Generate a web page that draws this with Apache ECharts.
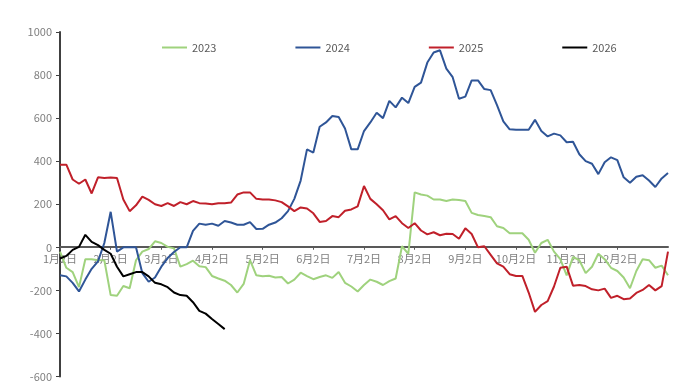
<!DOCTYPE html>
<html>
<head>
<meta charset="utf-8">
<script src="https://cdn.jsdelivr.net/npm/echarts@6/dist/echarts.min.js"></script>
<style>
  html, body { margin: 0; padding: 0; background: #fff; }
  #chart { width: 676px; height: 382px; }
</style>
</head>
<body>
<div id="chart"></div>
<script>
// x 轴：每月 8 个点，月标签放在每月 2 日
const months = [1, 2, 3, 4, 5, 6, 7, 8, 9, 10, 11, 12];
const days = [2, 5, 9, 13, 17, 21, 24, 28];
const categories = [];
months.forEach(m => days.forEach(d => categories.push(m + '月' + d + '日')));
categories.push('1月2日');

const seriesNames = ['2023', '2024', '2025', '2026'];

const data2023 = [
  -20, -95, -115, -185, -55, -55, -60, -60,
  -222, -225, -180, -190, -60, -20, -8, 28,
  20, 2, -5, -90, -78, -62, -88, -92,
  -133, -145, -155, -175, -210, -170, -60, -130,
  -134, -132, -140, -138, -168, -150, -118, -134,
  -148, -138, -130, -142, -115, -165, -182, -205,
  -175, -150, -160, -175, -157, -145, 5, -30,
  255, 245, 240, 222, 222, 215, 222, 220,
  215, 160, 150, 145, 140, 98, 90, 65,
  65, 65, 35, -25, 20, 35, -20, -55,
  -130, -45, -60, -120, -90, -30, -55, -95,
  -110, -140, -190, -110, -55, -60, -95, -85,
  -130
];

const data2024 = [
  -130, -135, -165, -205, -150, -100, -65, 20,
  165, -20, 0, 0, 0, -120, -160, -140,
  -90, -50, -22, 0, 0, 76, 110, 105,
  110, 100, 122, 115, 105, 105, 117, 85,
  86, 105, 115, 135, 168, 225, 310, 455,
  440, 560, 580, 610, 605, 552, 455, 455,
  540, 580, 625, 600, 680, 650, 695, 670,
  745, 765, 858, 905, 915, 830, 790, 690,
  700, 775, 775, 735, 730, 660, 585, 548,
  546, 546, 546, 592, 540, 515, 528, 520,
  488, 490, 432, 400, 388, 340, 395, 418,
  405, 325, 300, 328, 335, 310, 280, 320,
  345
];

const data2025 = [
  384, 384, 315, 295, 315, 250, 325, 322,
  324, 322, 222, 168, 195, 235, 220, 200,
  192, 205, 192, 210, 200, 215, 205, 203,
  200, 205, 205, 208, 245, 255, 255, 225,
  222, 222, 218, 210, 190, 168, 185, 180,
  158, 118, 122, 145, 140, 170, 176, 190,
  285, 225, 200, 172, 130, 145, 112, 90,
  112, 78, 60, 70, 56, 63, 62, 40,
  88, 62, 0, 5, -35, -75, -90, -125,
  -133, -133, -210, -300, -268, -250, -182, -95,
  -90, -178, -175, -180, -195, -200, -192, -235,
  -225, -241, -238, -212, -198, -175, -200, -180,
  -20
];

const data2026 = [
  -52, -40, -12, 2, 58, 25, 10, -12,
  -30, -90, -135, -125, -115, -115, -135, -165,
  -172, -185, -210, -222, -225, -255, -295, -308,
  -333, -356, -380
];

const seriesData = [data2023, data2024, data2025, data2026];
const colors = ['#9fd27d', '#2f5597', '#c0202a', '#000000'];

const yMin = -600, yMax = 1000;
const gridTop = 32, gridBottom = 4, chartH = 382;
// 把 x 轴整体（线、刻度、标签）上移到 0 的位置
const plotH = chartH - gridTop - gridBottom;
const zeroOffset = -plotH * (0 - yMin) / (yMax - yMin);

const chart = echarts.init(document.getElementById('chart'));
const isMonthTick = (idx) => idx % 8 === 0 && idx < 96;

chart.setOption({
  animation: false,
  color: colors,
  textStyle: { fontFamily: 'Noto Sans CJK SC' },
  grid: { left: 60, right: 8, top: gridTop, bottom: gridBottom, containLabel: false },
  legend: {
    data: seriesNames,
    left: 157,
    top: 37,
    icon: 'rect',
    itemWidth: 25,
    itemHeight: 2,
    itemGap: 79,
    textStyle: { color: '#595959', fontSize: 11 }
  },
  xAxis: {
    type: 'category',
    data: categories,
    boundaryGap: false,
    offset: zeroOffset,
    axisLine: { onZero: false, lineStyle: { color: '#595959', width: 2 } },
    axisTick: { show: true, length: 3, interval: isMonthTick, lineStyle: { color: '#595959' } },
    axisLabel: { interval: isMonthTick, color: '#7f7f7f', fontSize: 11, margin: 7 },
    splitLine: { show: false }
  },
  yAxis: {
    type: 'value',
    min: yMin,
    max: yMax,
    interval: 200,
    axisLine: { show: true, lineStyle: { color: '#404040', width: 2 } },
    axisTick: { show: true, length: 4, lineStyle: { color: '#404040' } },
    axisLabel: { color: '#7f7f7f', fontSize: 11, margin: 8, formatter: (v) => String(v) },
    splitLine: { show: false }
  },
  series: seriesNames.map((name, i) => ({
    name: name,
    type: 'line',
    data: seriesData[i],
    showSymbol: false,
    symbol: 'none',
    lineStyle: { width: 2, color: colors[i] },
    z: i === 3 ? 5 : 2
  }))
});
</script>
</body>
</html>
